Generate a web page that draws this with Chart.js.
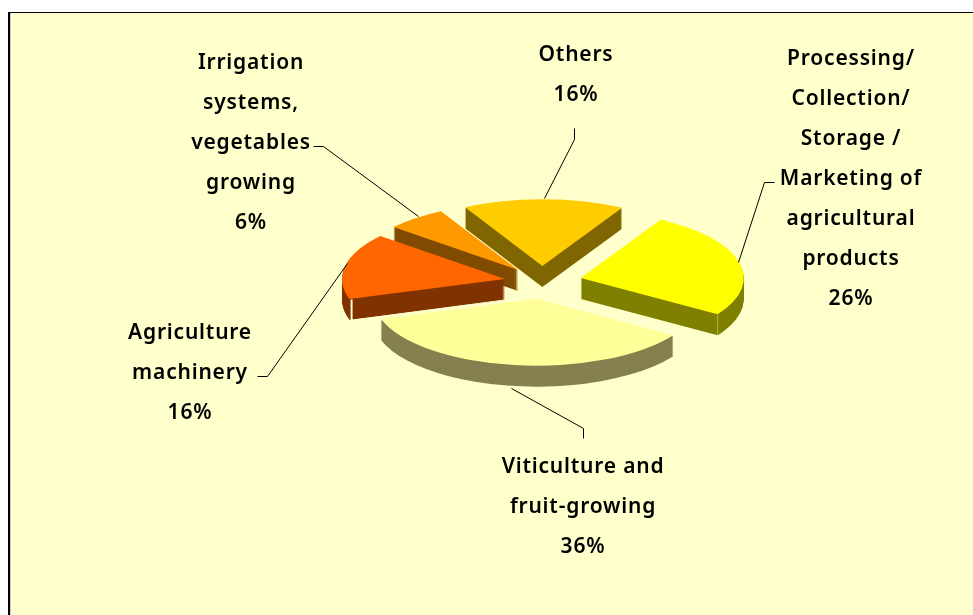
<!DOCTYPE html>
<html><head><meta charset="utf-8">
<script src="https://cdn.jsdelivr.net/npm/chart.js@4"></script>
<style>html,body{margin:0;padding:0;background:#fff}
#panel{position:absolute;left:8px;top:12px;width:973px;height:615px;background:#FFFFCC;border-top:1px solid #000;border-left:2px solid #000;box-shadow:inset 1px 0 0 #ccc}
#wrap{position:absolute;left:0;top:0;width:973px;height:615px;overflow:hidden}
canvas{position:absolute;left:0;top:0}</style></head>
<body><div id="wrap"><div id="panel"></div><canvas id="c" width="973" height="615"></canvas></div>
<script>
const categories=['Others','Processing/ Collection/ Storage / Marketing of agricultural products','Viticulture and fruit-growing','Agriculture machinery','Irrigation systems, vegetables growing'];
const values=[16,26,36,16,6];
const topColors=['#FFCC00','#FFFF00','#FFFF99','#FF6600','#FF9900'];
const sideColors=['#806600','#808000','#85804F','#803300','#804C00'];
const labelLines=[['Others','16%'],['Processing/','Collection/','Storage /','Marketing of','agricultural','products','26%'],['Viticulture and','fruit-growing','36%'],['Agriculture','machinery','16%'],['Irrigation','systems,','vegetables','growing','6%']];
const labelAnchors=[[576,55],[851,59],[583,467],[190,333],[251,63]];
const leaders=[[[574,128],[574,139],[544,198]],[[774,182],[764,182],[738,262]],[[583,438],[583,428],[511,388]],[[257,376],[267,376],[347,263]],[[313,146],[323,146],[418,216]]];
const explode=[39,40,41.5,37.7,37.7];
const SQUASH=0.41, DEPTH=21, ROT=-28.3, RADIUS=163, LINE=40;
const FONT='600 21px "Noto Sans"';
const pie3d={id:'pie3d',
 beforeDatasetDraw(chart){
  const ctx=chart.ctx,arcs=chart.getDatasetMeta(0).data;
  const cy=arcs[0].y;
  ctx.save();
  ctx.transform(1,0,0,SQUASH,0,cy*(1-SQUASH));
  const order=[0,1,4,3,2];
  order.forEach(i=>{
    const a=arcs[i],mid=(a.startAngle+a.endAngle)/2;
    const ox=Math.cos(mid)*explode[i],oy=Math.sin(mid)*explode[i];
    ctx.save();ctx.translate(ox,oy);
    ctx.fillStyle=sideColors[i];
    for(let d=DEPTH;d>0;d--){
      ctx.beginPath();
      const yy=a.y+d/SQUASH;
      ctx.moveTo(a.x,yy);
      ctx.arc(a.x,yy,a.outerRadius,a.startAngle,a.endAngle);
      ctx.closePath();ctx.fill();
    }
    a.draw(ctx,chart.chartArea);
    // pale highlights on the front corners of the extruded slices
    const corner=ang=>[a.x+Math.cos(ang)*a.outerRadius,a.y+Math.sin(ang)*a.outerRadius];
    ctx.lineWidth=1;
    if(i===1){const p=corner(a.endAngle);ctx.strokeStyle='#C8C860';ctx.beginPath();ctx.moveTo(p[0],p[1]);ctx.lineTo(p[0],p[1]+DEPTH/SQUASH);ctx.stroke();}
    if(i===3){const p=corner(a.startAngle);ctx.strokeStyle='#FFFFCC';ctx.lineWidth=1.5;ctx.beginPath();ctx.moveTo(p[0]+2,p[1]+1);ctx.lineTo(p[0]+2,p[1]+DEPTH/SQUASH);ctx.lineTo(a.x,a.y+DEPTH/SQUASH);ctx.lineWidth=2;ctx.stroke();}
    ctx.restore();
  });
  ctx.restore();
  return false;
 },
 afterDraw(chart){
  const ctx=chart.ctx;
  ctx.save();
  ctx.strokeStyle='#000';ctx.lineWidth=1;
  leaders.forEach(l=>{ctx.beginPath();l.forEach((p,i)=>i?ctx.lineTo(p[0]+.5,p[1]+.5):ctx.moveTo(p[0]+.5,p[1]+.5));ctx.stroke();});
  ctx.fillStyle='#000';ctx.font=FONT;ctx.textAlign='center';ctx.textBaseline='middle';
  ctx.letterSpacing='0.8px';
  labelLines.forEach((ls,i)=>ls.forEach((t,j)=>ctx.fillText(t,labelAnchors[i][0],labelAnchors[i][1]+j*LINE)));
  ctx.restore();
 }};
new Chart(document.getElementById('c'),{type:'pie',plugins:[pie3d],
 data:{labels:categories,datasets:[{data:values,backgroundColor:topColors,borderWidth:0,clip:false}]},
 options:{responsive:false,animation:false,rotation:ROT,radius:RADIUS,
  layout:{padding:{left:111,top:0,right:0,bottom:51}},
  plugins:{legend:{display:false},tooltip:{enabled:false}}}});
</script></body></html>
